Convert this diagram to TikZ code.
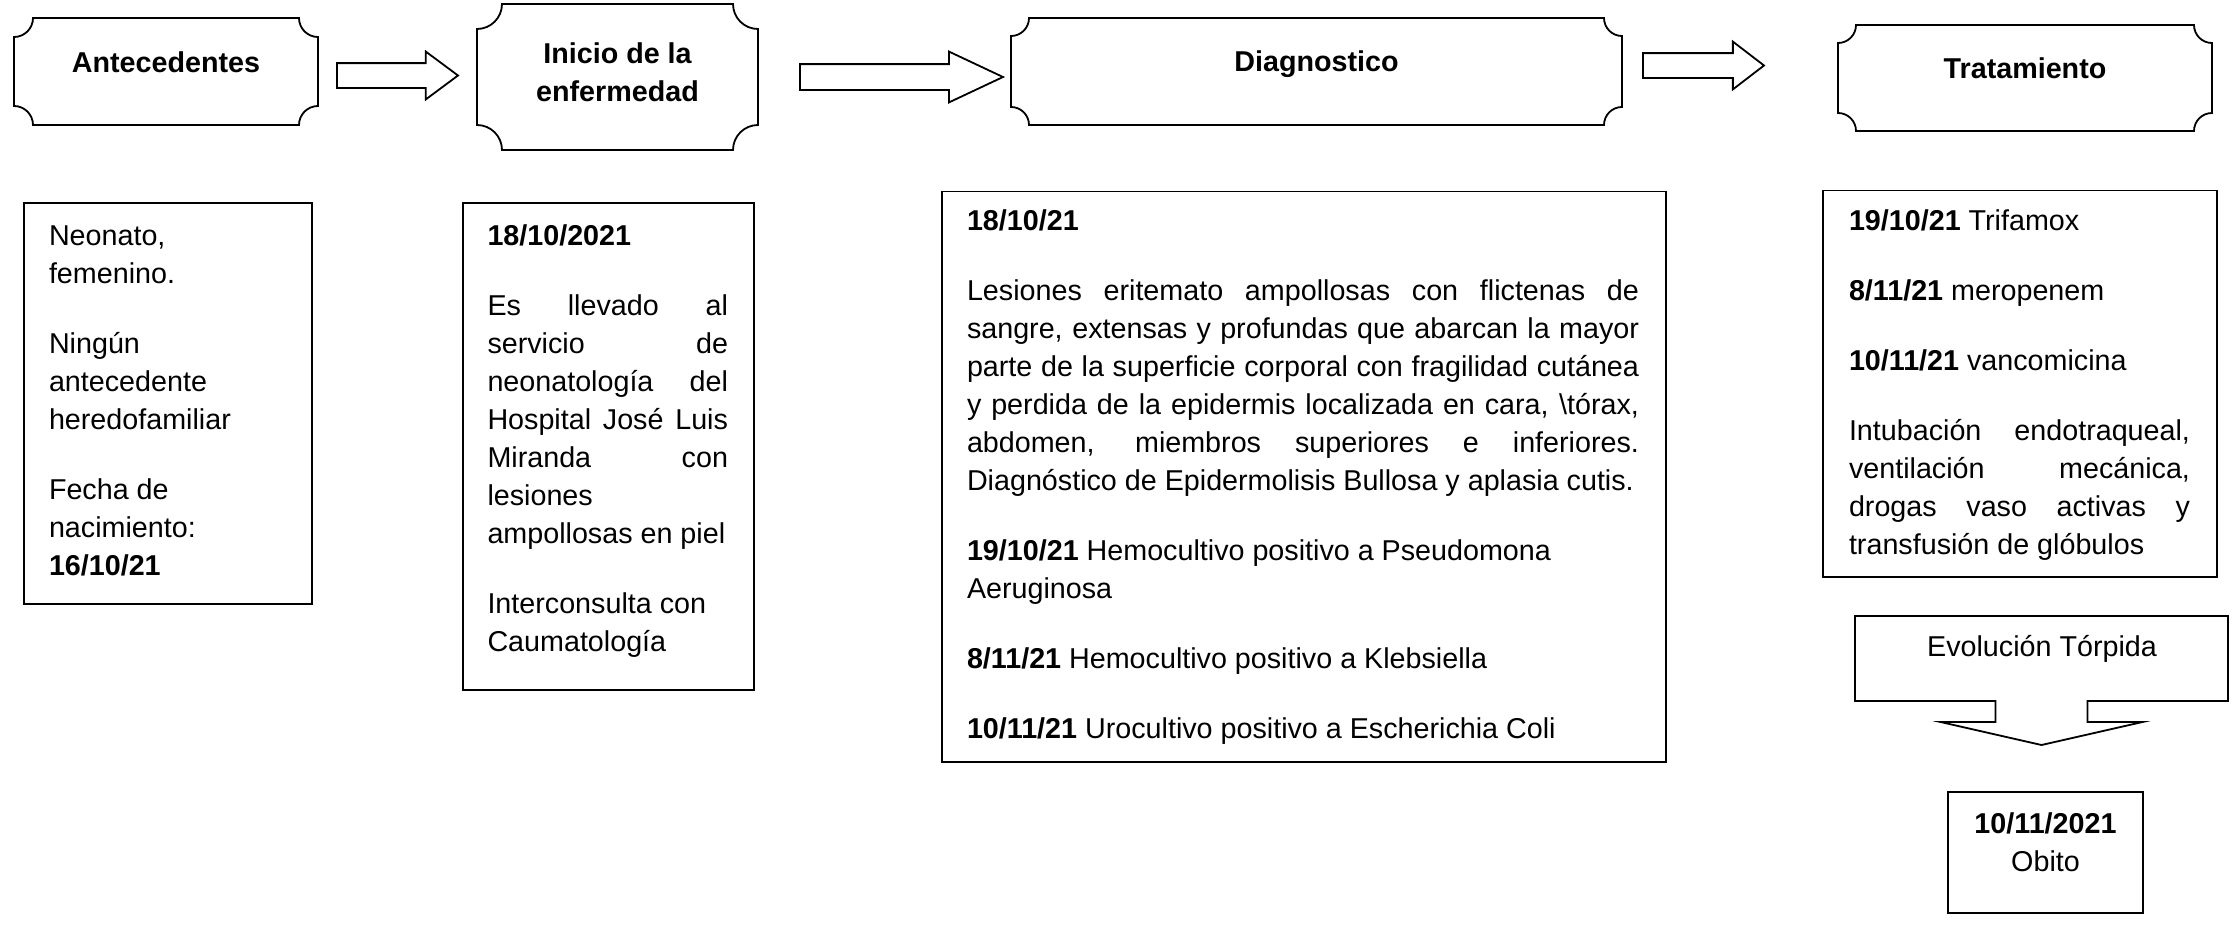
\documentclass[tikz,border=0pt]{standalone}
\usepackage{fontspec}
\setmainfont{Liberation Sans}
\usetikzlibrary{shapes.arrows,calc}

\newcommand\jl[1]{\makebox[\linewidth][s]{#1}}
\newcommand\drawplaque[2]{%
  \draw[outline] ($(#1.north west)+(#2,0)$) -- ($(#1.north east)+(-#2,0)$)
    arc[start angle=180,end angle=270,radius=#2]
    -- ($(#1.south east)+(0,#2)$)
    arc[start angle=90,end angle=180,radius=#2]
    -- ($(#1.south west)+(#2,0)$)
    arc[start angle=0,end angle=90,radius=#2]
    -- ($(#1.north west)+(0,-#2)$)
    arc[start angle=270,end angle=360,radius=#2]
    -- cycle;}

\tikzset{
  outline/.style={line width=1.8pt, line join=miter},
  frame/.style={inner sep=0pt, outer sep=0pt},
  boxed/.style={draw, line width=1.8pt, inner sep=0pt, outer sep=0pt},
  txt/.style={inner sep=0pt, outer sep=0pt},
  blockarrow/.style={single arrow, draw, line width=1.8pt, inner xsep=0pt,
    outer sep=0pt, anchor=tail, single arrow head indent=0pt},
  every node/.style={font=\fontsize{28.7}{38}\selectfont},
}

\begin{document}
\begin{tikzpicture}[x=1pt,y=1pt]
\useasboundingbox (0,0) rectangle (2236,-926);
\fill[white] (0,0) rectangle (2236,-926);

% header frames
\node[frame, minimum width=304pt, minimum height=107pt] (antH) at (166,-71.5) {};
\node[frame, minimum width=281pt, minimum height=146pt] (iniH) at (617.5,-77) {};
\node[frame, minimum width=611pt, minimum height=107pt] (diaH) at (1316.5,-71.5) {};
\node[frame, minimum width=374pt, minimum height=106pt] (traH) at (2025,-78) {};
\drawplaque{antH}{19pt}
\drawplaque{iniH}{25pt}
\drawplaque{diaH}{18pt}
\drawplaque{traH}{18pt}

% header texts
\node[txt, anchor=base] (antT) at (166,-72) {\textbf{Antecedentes}};
\node[txt, anchor=base] (iniT) at (617.5,-63) {\parbox[t]{281pt}{\centering\bfseries Inicio de la\\enfermedad}};
\node[txt, anchor=base] (diaT) at (1316.5,-71) {\textbf{Diagnostico}};
\node[txt, anchor=base] (traT) at (2025,-78) {\textbf{Tratamiento}};

% block arrows
\node[blockarrow, inner ysep=11.5pt, single arrow head extend=11.5pt,
  single arrow tip angle=73.2, minimum height=121pt] (arr1) at (337,-75.5) {};
\node[blockarrow, inner ysep=12pt, single arrow head extend=12.5pt,
  single arrow tip angle=50.4, minimum height=203pt] (arr2) at (800,-77) {};
\node[blockarrow, inner ysep=11.5pt, single arrow head extend=11.5pt,
  single arrow tip angle=75, minimum height=121pt] (arr3) at (1643,-65.5) {};

% detail boxes
\node[boxed, minimum width=288pt, minimum height=401pt] (antD) at (168,-403.5) {};
\node[boxed, minimum width=291pt, minimum height=487pt] (iniD) at (608.5,-446.5) {};
\node[boxed, minimum width=724pt, minimum height=570.5pt] (diaD) at (1304,-476.75) {};
\node[boxed, minimum width=394pt, minimum height=386.5pt] (traD) at (2020,-383.75) {};

% detail texts
\node[txt, anchor=base west] (antX) at (49,-245) {\parbox[t]{240pt}{%
Neonato,\\femenino.\\[32pt]
Ningún\\antecedente\\heredofamiliar\\[32pt]
Fecha de\\nacimiento:\\\textbf{16/10/21}}};

\node[txt, anchor=base west] (iniX) at (487.5,-245) {\parbox[t]{240.5pt}{%
\textbf{18/10/2021}\\[32pt]
\jl{Es llevado al}\\
\jl{servicio de}\\
\jl{neonatología del}\\
\jl{Hospital José Luis}\\
\jl{Miranda con}\\
lesiones\\
ampollosas en piel\\[32pt]
Interconsulta con\\
Caumatología}};

\node[txt, anchor=base west] (diaX) at (967,-230.5) {\parbox[t]{672pt}{%
\textbf{18/10/21}\\[32pt]
\jl{Lesiones eritemato ampollosas con flictenas de}\\
\jl{sangre, extensas y profundas que abarcan la mayor}\\
\jl{parte de la superficie corporal con fragilidad cutánea}\\
\jl{y perdida de la epidermis localizada en cara, \textbackslash tórax,}\\
\jl{abdomen, miembros superiores e inferiores.}\\
Diagnóstico de Epidermolisis Bullosa y aplasia cutis.\\[32pt]
\textbf{19/10/21} Hemocultivo positivo a Pseudomona\\
Aeruginosa\\[32pt]
\textbf{8/11/21} Hemocultivo positivo a Klebsiella\\[32pt]
\textbf{10/11/21} Urocultivo positivo a Escherichia Coli}};

\node[txt, anchor=base west] (traX) at (1849,-230) {\parbox[t]{341pt}{%
\textbf{19/10/21} Trifamox\\[32pt]
\textbf{8/11/21} meropenem\\[32pt]
\textbf{10/11/21} vancomicina\\[32pt]
\jl{Intubación endotraqueal,}\\
\jl{ventilación mecánica,}\\
\jl{drogas vaso activas y}\\
transfusión de glóbulos}};

% Evolucion callout
\node[frame, minimum width=373pt, minimum height=85pt] (evo) at (2041.5,-658.5) {};
\draw[outline] (evo.north west) -- (evo.north east) -- (evo.south east)
  -- ($(evo.south)+(46,0)$) -- ++(0,-21) -- ++(55,0)
  -- ($(evo.south)+(0,-44)$)
  -- ($(evo.south)+(-101,-21)$) -- ++(55,0)
  -- ($(evo.south)+(-46,0)$) -- (evo.south west) -- cycle;
\node[txt, anchor=base] (evoT) at (2042,-656) {Evolución Tórpida};

% Obito
\node[boxed, minimum width=195pt, minimum height=121pt] (obi) at (2045.5,-852.5) {};
\node[txt, anchor=base] (obiT) at (2045.5,-833) {\parbox[t]{195pt}{\centering\textbf{10/11/2021}\\Obito}};
\end{tikzpicture}
\end{document}
